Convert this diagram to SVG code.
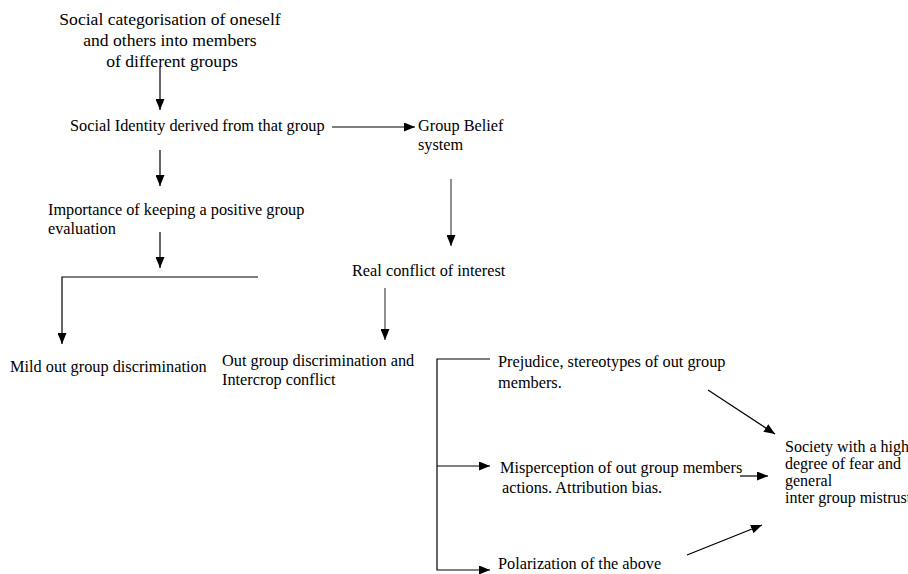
<svg xmlns="http://www.w3.org/2000/svg" width="908" height="574" viewBox="0 0 908 574">
<style>
text{font-family:"Liberation Serif","Times New Roman",serif;font-size:16.3px;fill:#000}
.big{font-size:17.6px}
.sm{font-size:16px}
.c{stroke:#000;stroke-width:1.2;fill:none}
.g{stroke:#444;stroke-width:1.2;fill:none}
</style>
<defs>
<marker id="ah" markerUnits="userSpaceOnUse" markerWidth="11" markerHeight="9" refX="11" refY="4.5" orient="auto" viewBox="0 0 11 9">
<path d="M0,0 L11,4.5 L0,9 z" fill="#000"/>
</marker>
</defs>
<rect width="908" height="574" fill="#fff"/>
<g id="n1"><text class="big" x="170" y="25" text-anchor="middle">Social categorisation of oneself</text><text class="big" x="170" y="46" text-anchor="middle">and others into members</text><text class="big" x="172" y="67" text-anchor="middle">of different groups</text></g>
<g id="n2"><text x="70" y="131">Social Identity derived from that group</text></g>
<g id="n3"><text x="418" y="131">Group Belief</text><text x="418" y="150">system</text></g>
<g id="n4"><text x="48" y="215">Importance of keeping a positive group</text><text x="48" y="234">evaluation</text></g>
<g id="n5"><text x="352" y="276">Real conflict of interest</text></g>
<g id="n6"><text x="10" y="372">Mild out group discrimination</text></g>
<g id="n7"><text x="222" y="366">Out group discrimination and</text><text x="222" y="385">Intercrop conflict</text></g>
<g id="n8"><text x="498" y="367">Prejudice, stereotypes of out group</text><text x="498" y="388">members.</text></g>
<g id="n9"><text x="500" y="473">Misperception of out group members</text><text x="502" y="493">actions. Attribution bias.</text></g>
<g id="n10"><text x="498" y="569">Polarization of the above</text></g>
<g id="n11"><text class="sm" x="785" y="452">Society with a high</text><text class="sm" x="785" y="469">degree of fear and</text><text class="sm" x="785" y="486">general</text><text class="sm" x="785" y="503">inter group mistrust</text></g>
<g id="connectors">
<line class="c" x1="160" y1="67" x2="160" y2="110" marker-end="url(#ah)"/>
<line class="c" x1="332" y1="127" x2="415" y2="127" marker-end="url(#ah)"/>
<line class="c" x1="160" y1="150" x2="160" y2="186" marker-end="url(#ah)"/>
<line class="c" x1="160" y1="232" x2="160" y2="268" marker-end="url(#ah)"/>
<polyline class="c" points="258,277 62,277 62,344" marker-end="url(#ah)"/>
<line class="g" x1="451" y1="179" x2="451" y2="246" marker-end="url(#ah)"/>
<line class="g" x1="385" y1="288" x2="385" y2="340" marker-end="url(#ah)"/>
<polyline class="c" points="490,359 437,359 437,570 490,570" marker-end="url(#ah)"/>
<line class="c" x1="437" y1="466" x2="490" y2="466" marker-end="url(#ah)"/>
<line class="c" x1="740" y1="476" x2="768" y2="476" marker-end="url(#ah)"/>
<line class="c" x1="708" y1="390" x2="775" y2="434" marker-end="url(#ah)"/>
<line class="c" x1="687" y1="555" x2="762" y2="525" marker-end="url(#ah)"/>
</g>
</svg>
